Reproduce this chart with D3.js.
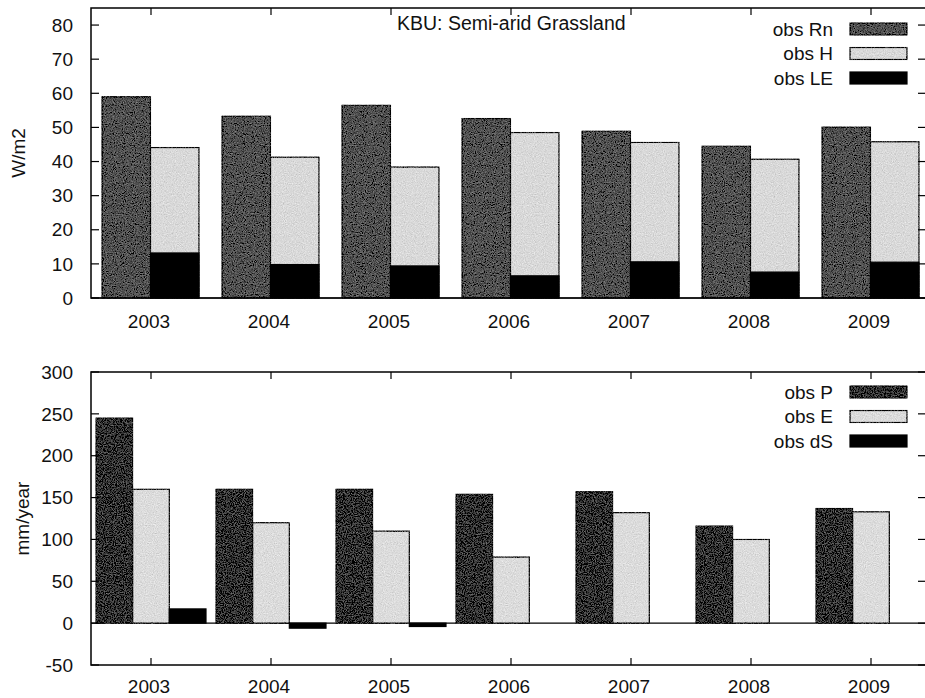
<!DOCTYPE html>
<html>
<head>
    <meta charset="utf-8">
    <title>KBU semi-arid grassland</title>
    <script type="text/javascript" src="https://cdn.jsdelivr.net/npm/d3@7"></script>
    <style>
        body { margin: 0; background: #fff; }
        text { font-family: "Liberation Sans", Arial, sans-serif; fill: #111; }
    </style>
</head>
<body>
<script type="text/javascript">
    // values
    var years = ["2003", "2004", "2005", "2006", "2007", "2008", "2009"]
    var obsRn = [59, 53.3, 56.5, 52.6, 48.9, 44.5, 50.1]
    var obsH  = [44.1, 41.3, 38.4, 48.5, 45.6, 40.7, 45.8]
    var obsLE = [13.2, 9.8, 9.4, 6.5, 10.6, 7.6, 10.5]

    var obsP  = [245, 160, 160, 154, 157, 116, 137]
    var obsE  = [160, 120, 110, 79, 132, 100, 133]
    var obsdS = [17, -6, -4, 0, 0, 0, 0]

    var topTicks = [0, 10, 20, 30, 40, 50, 60, 70, 80]
    var botTicks = [-50, 0, 50, 100, 150, 200, 250, 300]

    var width = 925
    var height = 698
    var left = 91, right = 926
    var fs = "19px"

    var svg = d3.select("body").append("svg")
        .attr("width", width).attr("height", height)

    // grainy fill like the scanned original
    var defs = svg.append("defs")
    var f = defs.append("filter").attr("id", "grain")
    f.append("feTurbulence").attr("type", "fractalNoise")
        .attr("baseFrequency", 0.9).attr("numOctaves", 2).attr("seed", 4).attr("result", "noise")
    f.append("feColorMatrix").attr("in", "noise").attr("type", "matrix")
        .attr("values", "0.33 0.33 0.33 0 0  0.33 0.33 0.33 0 0  0.33 0.33 0.33 0 0  0 0 0 0 1")
        .attr("result", "gray")
    f.append("feComposite").attr("in", "SourceGraphic").attr("in2", "gray")
        .attr("operator", "arithmetic").attr("k1", 0).attr("k2", 1).attr("k3", 0.7).attr("k4", -0.35)
        .attr("result", "mix")
    f.append("feComposite").attr("in", "mix").attr("in2", "SourceGraphic").attr("operator", "in")

    var x = d3.scaleBand().domain(years).range([left, left + 120 * years.length])
    function cx(y) { return x(y) + x.bandwidth() / 2 }

    function drawPanel(opt) {
        var y = d3.scaleLinear().domain(opt.domain).range([opt.bottom, opt.top])
        var g = svg.append("g")
        var inner = d3.scaleBand().domain(opt.slots).range(opt.slotRange)

        // zero line
        g.append("line")
            .attr("x1", left).attr("x2", right)
            .attr("y1", y(0)).attr("y2", y(0))
            .attr("stroke", "#000").attr("stroke-width", 1.2)

        opt.series.forEach(function(s) {
            g.selectAll(null)
                .data(s.values)
                .enter()
                .append("rect")
                .attr("x", function(d, i) { return cx(years[i]) + inner(s.slot) })
                .attr("width", inner.bandwidth())
                .attr("y", function(d) { return y(Math.max(0, d)) })
                .attr("height", function(d) { return Math.abs(y(d) - y(0)) })
                .attr("fill", s.color)
                .attr("stroke", "#000").attr("stroke-width", 1.2)
                .attr("filter", s.grain ? "url(#grain)" : null)
        })

        // frame
        g.append("rect")
            .attr("x", left).attr("y", opt.top)
            .attr("width", right - left).attr("height", opt.bottom - opt.top)
            .attr("fill", "none").attr("stroke", "#000").attr("stroke-width", 1.5)

        // y ticks, mirrored inward on both sides
        opt.ticks.forEach(function(t) {
            g.append("line").attr("x1", left).attr("x2", left + 8)
                .attr("y1", y(t)).attr("y2", y(t)).attr("stroke", "#000").attr("stroke-width", 1.2)
            g.append("line").attr("x1", right - 8).attr("x2", right)
                .attr("y1", y(t)).attr("y2", y(t)).attr("stroke", "#000").attr("stroke-width", 1.2)
            g.append("text").attr("x", 73).attr("y", y(t)).attr("dy", "0.35em")
                .attr("text-anchor", "end").style("font-size", fs).text(t)
        })

        // x ticks on top and bottom
        years.forEach(function(yr) {
            g.append("line").attr("x1", cx(yr)).attr("x2", cx(yr))
                .attr("y1", opt.top).attr("y2", opt.top + 7).attr("stroke", "#000").attr("stroke-width", 1.2)
            g.append("line").attr("x1", cx(yr)).attr("x2", cx(yr))
                .attr("y1", opt.bottom - 7).attr("y2", opt.bottom).attr("stroke", "#000").attr("stroke-width", 1.2)
            g.append("text").attr("x", cx(yr) - 2).attr("y", opt.bottom + opt.yearGap).attr("dy", "0.35em")
                .attr("text-anchor", "middle").style("font-size", fs).text(yr)
        })

        g.append("text")
            .attr("transform", "translate(" + opt.labelX + "," + (opt.top + opt.bottom) / 2 + ") rotate(-90)")
            .attr("text-anchor", "middle").attr("dy", "0.35em")
            .style("font-size", fs).text(opt.label)

        // legend
        opt.series.forEach(function(s, i) {
            var ly = opt.legendY + i * 24.5
            g.append("text").attr("x", 833).attr("y", ly).attr("dy", "0.35em")
                .attr("text-anchor", "end").style("font-size", fs).text(s.name)
            g.append("rect").attr("x", 850).attr("y", ly - 6).attr("width", 57).attr("height", 12)
                .attr("fill", s.color).attr("stroke", "#000").attr("stroke-width", 1.2)
                .attr("filter", s.grain ? "url(#grain)" : null)
        })
        return g
    }

    var topPanel = drawPanel({
        domain: [0, 85], top: 8, bottom: 298,
        ticks: topTicks, label: "W/m2", labelX: 18, legendY: 29, yearGap: 23,
        slots: ["a", "b"], slotRange: [-49, 48],
        series: [
            { name: "obs Rn", values: obsRn, slot: "a", color: "#525252", grain: true },
            { name: "obs H", values: obsH, slot: "b", color: "#d9d9d9", grain: true },
            { name: "obs LE", values: obsLE, slot: "b", color: "#000", grain: false }
        ]
    })
    topPanel.append("text").attr("x", 397).attr("y", 23).attr("dy", "0.35em")
        .style("font-size", "19.5px").text("KBU: Semi-arid Grassland")

    drawPanel({
        domain: [-50, 300], top: 372, bottom: 665,
        ticks: botTicks, label: "mm/year", labelX: 22, legendY: 392, yearGap: 21,
        slots: ["P", "E", "dS"], slotRange: [-55, 55],
        series: [
            { name: "obs P", values: obsP, slot: "P", color: "#333333", grain: true },
            { name: "obs E", values: obsE, slot: "E", color: "#dcdcdc", grain: true },
            { name: "obs dS", values: obsdS, slot: "dS", color: "#000", grain: false }
        ]
    })
</script>
</body>
</html>
